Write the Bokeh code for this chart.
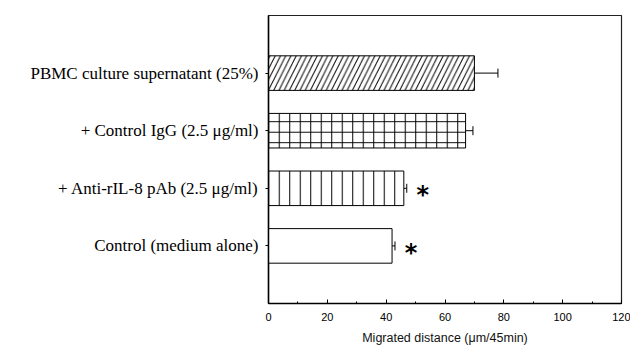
from bokeh.plotting import figure
from bokeh.models import ColumnDataSource, Whisker, TeeHead, FixedTicker, Range1d
from bokeh.core.properties import value
from bokeh.embed import file_html
from bokeh.resources import INLINE

# Data
categories = ["PBMC culture supernatant (25%)", "+ Control IgG (2.5 \u03bcg/ml)",
              "+ Anti-rIL-8 pAb (2.5 \u03bcg/ml)", "Control (medium alone)"]
positions = [4, 3, 2, 1]
means = [70.0, 67.0, 46.0, 42.0]
errors = [8.0, 2.5, 1.0, 1.0]
significant = [False, False, True, True]
hatches = ["/", "+", "|", " "]
x_ticks = [0, 20, 40, 60, 80, 100, 120]

p = figure(width=630, height=352, output_backend="svg", toolbar_location=None,
           x_range=Range1d(0, 120), y_range=Range1d(0, 5),
           min_border_left=268, min_border_right=9, min_border_top=15, min_border_bottom=49)
p.background_fill_color = "white"
p.border_fill_color = "white"
p.outline_line_color = "#222222"
p.outline_line_width = 1.2
p.xgrid.visible = False
p.ygrid.visible = False

src = ColumnDataSource(dict(y=positions, right=means, hatch=hatches,
                            upper=[m + e for m, e in zip(means, errors)], cat=categories))
p.hbar(y="y", left=0, right="right", height=0.6, source=src,
       fill_color="white", line_color="black", line_width=1,
       hatch_pattern="hatch", hatch_color="black", hatch_scale=10.5, hatch_weight=1)

w = Whisker(base="y", lower="right", upper="upper", dimension="width", source=src,
            line_color="black", line_width=1,
            lower_head=None, upper_head=TeeHead(size=9, line_color="black", line_width=1))
p.add_layout(w)

star_src = ColumnDataSource(dict(
    x=[m + e for m, e, s in zip(means, errors, significant) if s],
    y=[pp for pp, s in zip(positions, significant) if s],
    t=["*" for s in significant if s]))
p.text(x="x", y="y", text="t", source=star_src, x_offset=16, y_offset=7,
       text_align="center", text_baseline="middle",
       text_font=value("DejaVu Sans"), text_font_size="24px", text_font_style="bold",
       text_color="black")

# x axis
xa = p.xaxis[0]
xa.ticker = FixedTicker(ticks=x_ticks, minor_ticks=list(range(0, 121, 10)))
xa.major_tick_in = 4
xa.major_tick_out = 0
xa.minor_tick_in = 2
xa.minor_tick_out = 0
xa.major_label_standoff = 9
xa.major_label_text_font = "Liberation Sans"
xa.major_label_text_font_size = "11px"
xa.major_label_text_color = "black"
xa.axis_label = "Migrated distance (\u03bcm/45min)"
xa.axis_label_text_font = "Liberation Sans"
xa.axis_label_text_font_size = "12.5px"
xa.axis_label_text_font_style = "normal"
xa.axis_label_text_color = "#111111"
xa.axis_label_standoff = 7
xa.axis_line_color = "black"
xa.axis_line_width = 1.5

# y axis
ya = p.yaxis[0]
ya.ticker = FixedTicker(ticks=positions, minor_ticks=[])
ya.major_label_overrides = {pp: c for pp, c in zip(positions, categories)}
ya.major_tick_in = 0
ya.major_tick_out = 3
ya.minor_tick_line_color = None
ya.major_label_standoff = 7
ya.major_label_text_font = "Liberation Serif"
ya.major_label_text_font_size = "17px"
ya.major_label_text_color = "black"
ya.axis_line_color = "black"
ya.axis_line_width = 1.5

open("out.html", "w").write(file_html(p, INLINE))
